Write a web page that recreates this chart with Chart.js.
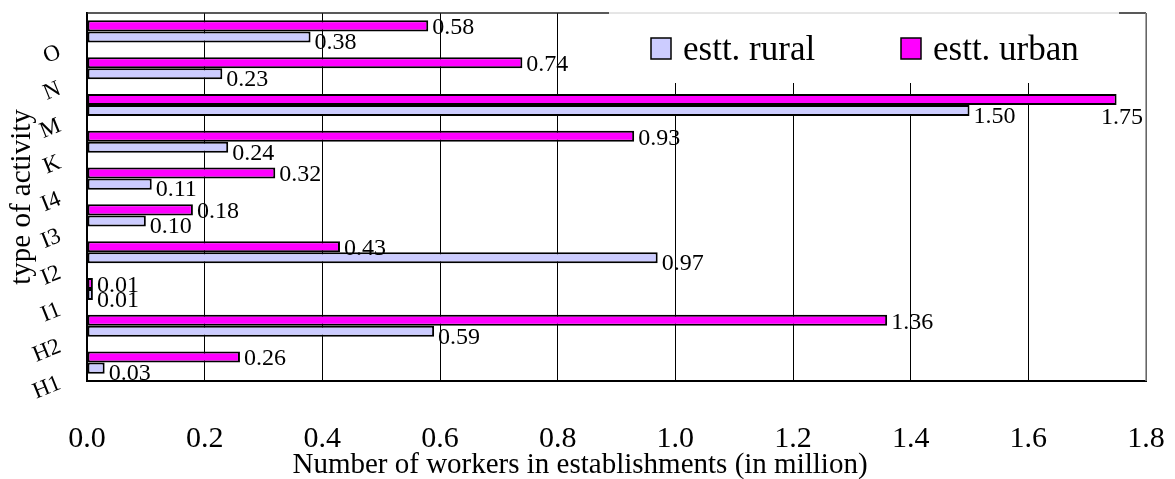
<!DOCTYPE html>
<html lang="en">
<head>
    <meta charset="UTF-8">
    <title>Workers by type of activity</title>
    <script src="https://cdn.jsdelivr.net/npm/chart.js"></script>
    <style>
        body {
            margin: 0;
            background: #ffffff;
        }
        .wrap {
            width: 1175px;
            height: 479px;
        }
    </style>
</head>
<body>
    <div class="wrap">
        <canvas id="workersChart" width="1175" height="479"></canvas>
    </div>

    <script>
        // activities, bottom to top
        const categories = ['H1', 'H2', 'I1', 'I2', 'I3', 'I4', 'K', 'M', 'N', 'O'];
        const ruralValues = [0.03, 0.59, 0.01, 0.97, 0.10, 0.11, 0.24, 1.50, 0.23, 0.38];
        const urbanValues = [0.26, 1.36, 0.01, 0.43, 0.18, 0.32, 0.93, 1.75, 0.74, 0.58];
        const seriesNames = ['estt. rural', 'estt. urban'];
        const xMin = 0, xMax = 1.8, xStep = 0.2;
        const xTitle = 'Number of workers in establishments (in million)';
        const yTitle = 'type of activity';

        const serif = "'Liberation Serif', 'Times New Roman', serif";
        const ruralColor = '#CCCCFF';
        const urbanColor = '#FF00FF';

        // value labels next to the bar ends
        const valueLabels = {
            id: 'valueLabels',
            afterDatasetsDraw(chart) {
                const ctx = chart.ctx;
                const a = chart.chartArea;
                ctx.save();
                ctx.font = '24px ' + serif;
                ctx.fillStyle = '#000';
                ctx.textBaseline = 'middle';
                chart.data.datasets.forEach((ds, i) => {
                    const meta = chart.getDatasetMeta(i);
                    const dy = ds.label === seriesNames[0] ? 6 : 2;
                    meta.data.forEach((bar, j) => {
                        const txt = ds.data[j].toFixed(2);
                        const w = ctx.measureText(txt).width;
                        if (bar.x + 4 + w > a.right) {
                            // no room on the right: tuck it under the bar end
                            ctx.textAlign = 'right';
                            ctx.fillText(txt, a.right - 3, bar.y + 18);
                        } else {
                            ctx.textAlign = 'left';
                            ctx.fillText(txt, bar.x + 4, bar.y + dy);
                        }
                    });
                });
                ctx.restore();
            }
        };

        // frame, x title and legend box sitting inside the plot
        const frameAndLegend = {
            id: 'frameAndLegend',
            afterDraw(chart) {
                const ctx = chart.ctx;
                const a = chart.chartArea;
                ctx.save();
                ctx.lineWidth = 1.5;
                ctx.strokeStyle = '#222';
                ctx.beginPath();
                ctx.moveTo(a.left, a.top);
                ctx.lineTo(a.right, a.top);
                ctx.stroke();
                ctx.strokeStyle = '#888';
                ctx.beginPath();
                ctx.moveTo(a.right, a.top);
                ctx.lineTo(a.right, a.bottom);
                ctx.stroke();

                // x axis title (sits left of the plot centre in the original)
                ctx.fillStyle = '#000';
                ctx.font = '29px ' + serif;
                ctx.textAlign = 'center';
                ctx.textBaseline = 'middle';
                ctx.fillText(xTitle, 580, 465);

                // legend
                ctx.fillStyle = '#fff';
                ctx.fillRect(609, a.top - 1, 510, 71);
                ctx.strokeStyle = '#ccc';
                ctx.lineWidth = 1;
                ctx.beginPath();
                ctx.moveTo(609, a.top);
                ctx.lineTo(1119, a.top);
                ctx.stroke();

                const items = [
                    { text: seriesNames[0], color: ruralColor, x: 651 },
                    { text: seriesNames[1], color: urbanColor, x: 901 }
                ];
                ctx.font = '35px ' + serif;
                ctx.textBaseline = 'alphabetic';
                ctx.textAlign = 'left';
                items.forEach(it => {
                    ctx.fillStyle = it.color;
                    ctx.fillRect(it.x, 38, 20, 21);
                    ctx.strokeStyle = '#000';
                    ctx.lineWidth = 1.5;
                    ctx.strokeRect(it.x, 38, 20, 21);
                    ctx.fillStyle = '#000';
                    ctx.fillText(it.text, it.x + 32, 60);
                });
                ctx.restore();
            }
        };

        const ctx = document.getElementById('workersChart').getContext('2d');
        const chart = new Chart(ctx, {
            type: 'bar',
            data: {
                labels: categories,
                // urban first so it sits above rural inside each group
                datasets: [{
                    label: seriesNames[1],
                    data: urbanValues,
                    backgroundColor: urbanColor,
                    borderColor: '#000',
                    borderWidth: 2,
                    borderSkipped: false
                }, {
                    label: seriesNames[0],
                    data: ruralValues,
                    backgroundColor: ruralColor,
                    borderColor: '#000',
                    borderWidth: 2,
                    borderSkipped: false
                }]
            },
            options: {
                indexAxis: 'y',
                responsive: false,
                animation: false,
                layout: { padding: { top: 13, right: 29, left: 0, bottom: 0 } },
                datasets: {
                    bar: { categoryPercentage: 0.6, barPercentage: 1.0 }
                },
                plugins: {
                    legend: { display: false },
                    tooltip: { enabled: false }
                },
                scales: {
                    x: {
                        min: xMin,
                        max: xMax,
                        grid: { color: '#000', lineWidth: 1, drawTicks: false },
                        border: { color: '#000', width: 2 },
                        ticks: {
                            stepSize: xStep,
                            padding: 40,
                            color: '#000',
                            font: { family: serif, size: 30 },
                            callback: v => Number(v).toFixed(1)
                        },
                        afterFit(scale) {
                            scale.height = 98;
                            scale.paddingLeft = 0;
                            scale.paddingRight = 0;
                        }
                    },
                    y: {
                        reverse: true,
                        grid: { display: false },
                        border: { display: true, color: '#000', width: 2 },
                        ticks: {
                            minRotation: 22,
                            maxRotation: 22,
                            padding: 19,
                            labelOffset: 20,
                            color: '#000',
                            font: { family: serif, size: 23 }
                        },
                        title: {
                            display: true,
                            text: yTitle,
                            color: '#000',
                            font: { family: serif, size: 29 },
                            padding: { top: 5, bottom: 0 }
                        },
                        afterFit(scale) {
                            scale.width = 87;
                            scale.paddingTop = 0;
                            scale.paddingBottom = 0;
                        }
                    }
                }
            },
            plugins: [valueLabels, frameAndLegend]
        });
    </script>
</body>
</html>
